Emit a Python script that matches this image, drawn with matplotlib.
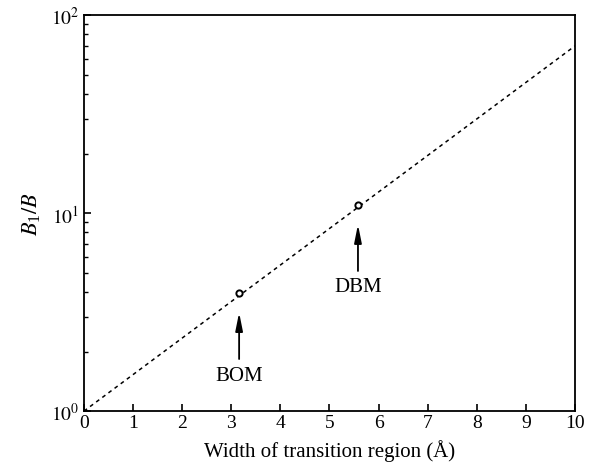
import matplotlib
matplotlib.use("Agg")
import matplotlib.pyplot as plt

plt.rcParams['font.family'] = ['Liberation Serif', 'DejaVu Serif']
plt.rcParams['mathtext.fontset'] = 'stix'

# fitted line (log scale) and the two marked points
line_x = [0, 10]
line_y = [1.0, 70.0]
pts_x = [3.16, 5.58]
pts_y = [3.95, 11.0]
labels = ["BOM", "DBM"]

fig = plt.figure(figsize=(5.91, 4.77), dpi=100)
ax = fig.add_axes([0.142, 0.136, 0.831, 0.830])

ax.plot(line_x, line_y, color='black', linestyle=(0, (2.5, 2.5)), linewidth=1.1)
ax.plot(pts_x, pts_y, 'o', markersize=4.5, markerfacecolor='white',
        markeredgecolor='black', markeredgewidth=1.4)

# arrows + labels under each point
for x, y, lab in zip(pts_x, pts_y, labels):
    ax.annotate("", xy=(x, y), xytext=(0, -66), textcoords='offset pixels',
                arrowprops=dict(arrowstyle='-|>,head_length=0.9,head_width=0.18',
                                color='black', lw=1.3, mutation_scale=12,
                                shrinkA=0, shrinkB=14))
    ax.annotate(lab, xy=(x, y), xytext=(0, -82), textcoords='offset pixels',
                ha='center', va='center', fontsize=15)

ax.set_yscale('log')
ax.set_xlim(0, 10)
ax.set_ylim(1, 100)
ax.set_xticks(range(0, 11))
ax.set_yticks([1, 10, 100])
ax.set_yticklabels([r'$10^0$', r'$10^1$', r'$10^2$'])
ax.tick_params(axis='both', direction='in', labelsize=14, length=5, width=1.2)
ax.tick_params(axis='y', which='minor', direction='in', length=3, width=1.0)
ax.tick_params(axis='x', pad=2)
for s in ax.spines.values():
    s.set_linewidth(1.3)

ax.set_xlabel("Width of transition region (Å)", fontsize=15, labelpad=6)
ax.set_ylabel(r'$B_{\mathregular{1}}/B$', fontsize=16, labelpad=6)

fig.savefig("out.png", dpi=100)
